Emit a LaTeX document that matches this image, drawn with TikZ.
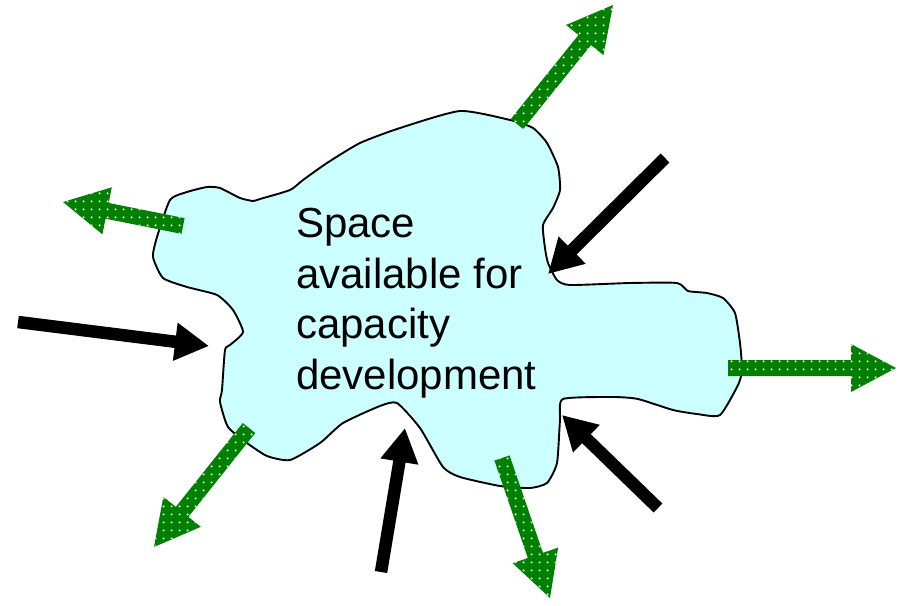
\documentclass[tikz,border=0pt]{standalone}
\usepackage{fontspec}
\setmainfont{Liberation Sans}
\usetikzlibrary{calc,arrows.meta,patterns.meta}
\definecolor{blobcyan}{RGB}{204,255,255}
\definecolor{arrowgreen}{RGB}{0,128,0}
\tikzdeclarepattern{
  name=greendots,
  type=uncolored,
  bottom left={(0pt,0pt)},
  top right={(8pt,8pt)},
  tile size={(8pt,8pt)},
  code={\fill (4pt,4pt) circle (1.3pt);}
}
\tikzset{
  blob/.style={draw=black,line width=1.9pt,line join=round,fill=blobcyan},
  blobtext/.style={inner sep=0pt,align=left,font=\fontsize{42}{50.7}\selectfont},
  pusharrow/.style={line width=12.5pt,-{Triangle[length=34pt,width=36pt]}},
  growarrow/.style={preaction={fill=arrowgreen},pattern=greendots,pattern color=white!90!arrowgreen}
}
% 緑の矢印 (#1 根元, #2 先端)
\newcommand\greenarrow[2]{%
  \fill[growarrow]
    ($(#1)!8pt!90:(#2)$) --
    ($($(#2)!45pt!(#1)$)!8pt!90:(#2)$) --
    ($($(#2)!45pt!(#1)$)!24pt!90:(#2)$) --
    (#2) --
    ($($(#2)!45pt!(#1)$)!24pt!-90:(#2)$) --
    ($($(#2)!45pt!(#1)$)!8pt!-90:(#2)$) --
    ($(#1)!8pt!-90:(#2)$) -- cycle;}
\begin{document}
\begin{tikzpicture}[x=1pt,y=-1pt]
\useasboundingbox (0,0) rectangle (901,605);
% 領域
\draw[blob] plot[smooth cycle,tension=0.35] coordinates {
  (460,111) (510,120) (533,128) (547,143) (558,167) (560,190) (553,208)
  (543,225) (545,248) (548,263) (557,280) (570,285) (630,283) (677,283)
  (688,291) (707,293) (723,298) (735,313) (740,343) (742,370) (738,385)
  (720,415) (697,414) (673,410) (638,399) (613,397) (563,399) (560,420)
  (557,463) (547,483) (530,488) (500,486) (460,477) (443,467) (420,428)
  (397,403) (380,406) (343,423) (320,443) (290,460) (267,456) (247,443)
  (228,427) (220,402) (222,390) (225,350) (230,345) (243,332) (233,310)
  (217,295) (187,287) (163,278) (153,257) (157,237) (170,200) (187,192)
  (207,187) (220,188) (240,198) (253,201) (260,199) (290,190) (303,180)
  (327,163) (360,143) (400,128)};
\node[blobtext,anchor=north west] (space) at (296,208)
  {Space\\available for\\capacity\\development};
% 外向きの矢印
\greenarrow{517,124}{613,5}
\greenarrow{183,226}{63,202}
\greenarrow{728,368}{896,368}
\greenarrow{249,428}{154,547}
\greenarrow{502,458}{550,598}
% 内向きの矢印
\draw[pusharrow] (665,158) -- (548,274);
\draw[pusharrow] (18,322) -- (209,346);
\draw[pusharrow] (381,572) -- (405,428);
\draw[pusharrow] (658,508) -- (562,415);
\end{tikzpicture}
\end{document}
